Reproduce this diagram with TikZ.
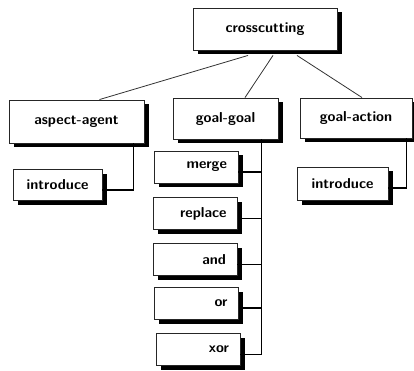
\documentclass[tikz,border=0pt]{standalone}
\usetikzlibrary{calc}

\tikzset{box/.style = {shape = rectangle,
                                    draw = black!85,
                                    fill = white,
                                    line width = 0.9pt,
                                    inner sep = 0pt,
                                    font = \fontsize{14.4}{17}\selectfont\sffamily\bfseries,
                                    preaction = {fill = black,
                                                 transform canvas = {shift = {(4.5pt,-4.5pt)}}}},
         leaf/.style = {box,
                                    align = right,
                                    text width = 62pt,
                                    minimum width = 84pt,
                                    minimum height = 32pt},
         link/.style = {draw = black!80,
                                    line width = 0.8pt},
         bus/.style = {draw = black,
                                    line width = 1.5pt}}

\begin{document}
\begin{tikzpicture}[x = 1pt, y = -1pt]
		\useasboundingbox (0,0) rectangle (414,371);
		\node[box, minimum width = 144pt, minimum height = 42pt] (cross) at (265,29) {crosscutting};
		\node[box, minimum width = 135pt, minimum height = 43pt] (aspect) at (76.5,121.5) {aspect-agent};
		\node[box, minimum width = 105pt, minimum height = 41pt] (gg) at (225.5,118.5) {goal-goal};
		\node[box, minimum width = 112pt, minimum height = 40pt] (ga) at (356,118) {goal-action};
		\node[box, minimum width = 89pt, minimum height = 31pt] (intro1) at (57.5,185) {introduce};
		\node[box, minimum width = 91pt, minimum height = 33pt] (intro2) at (342.5,183.5) {introduce};
		\node[leaf] (merge) at (196,167) {merge};
		\node[leaf] (replace) at (195.5,213.5) {replace};
		\node[leaf] (and) at (195,259.5) {and};
		\node[leaf] (or) at (196.5,303) {or};
		\node[leaf] (xor) at (198,349.5) {xor};
		\draw[link] ($(cross.south)+(-17,5)$) -- ($(aspect.north)+(23,0)$);
		\draw[link] ($(cross.south)+(8,5)$) -- ($(gg.north)+(19.5,0)$);
		\draw[link] ($(cross.south)+(32,5)$) -- ($(ga.north)+(6,0)$);
		\draw[bus] ($(aspect.south east)+(-11,0)$) |- ($(intro1.east)+(0,5)$);
		\draw[bus] ($(ga.south east)+(-6,0)$) |- ($(intro2.east)+(0,4.5)$);
		\coordinate (ggbus) at ($(gg.south east)+(-17,0)$);
		\draw[bus] (ggbus) |- ($(xor.east)+(0,5)$);
		\foreach \n in {merge,replace,and,or}
			\draw[bus] ($(\n.east)+(0,5)$) -| (ggbus);
	\end{tikzpicture}
\end{document}
